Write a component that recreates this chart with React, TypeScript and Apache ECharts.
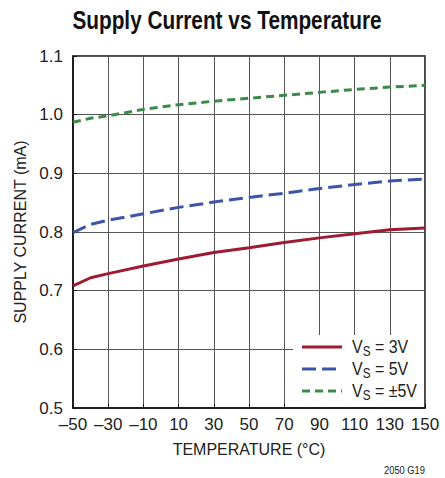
import React, { useEffect, useRef } from "react";
import * as echarts from "echarts";

const temperatures = [-50, -40, -30, -10, 10, 30, 50, 70, 90, 110, 130, 150];
const vs3 = [0.708, 0.722, 0.729, 0.742, 0.754, 0.765, 0.773, 0.782, 0.79, 0.797, 0.804, 0.807];
const vs5 = [0.799, 0.813, 0.82, 0.831, 0.842, 0.851, 0.859, 0.866, 0.874, 0.881, 0.887, 0.89];
const vs5pm = [0.987, 0.994, 0.998, 1.009, 1.017, 1.023, 1.028, 1.033, 1.038, 1.043, 1.047, 1.05];
const seriesNames = ["VS = 3V", "VS = 5V", "VS = ±5V"];
const legendTail = [" = 3V", " = 5V", " = ±5V"];
const colors = ["#9e1b32", "#3b56a8", "#3a8b48"];
const dashes: (number[] | null)[] = [null, [14, 6], [8, 5]];

const FONT = "'Liberation Sans', Arial, sans-serif";

export default function App() {
  const ref = useRef<HTMLDivElement>(null);
  useEffect(() => {
    document.body.style.margin = "0";
    const chart = echarts.init(ref.current!, null, { renderer: "svg" });
    const mk = (vals: number[]) => temperatures.map((t, i) => [t, vals[i]]);
    const legendY = [347, 369, 391];
    const legendEls: any[] = [];
    seriesNames.forEach((_, i) => {
      legendEls.push({
        type: "line",
        z: 5,
        shape: { x1: 302, y1: legendY[i], x2: 342, y2: legendY[i] },
        style: { stroke: colors[i], lineWidth: 3, lineDash: dashes[i] || undefined },
      });
      legendEls.push({
        type: "text",
        z: 5,
        x: 352,
        y: legendY[i],
        scaleX: 0.84,
        style: {
          text: `{v|V}{s|S}{v|${legendTail[i]}}`,
          textVerticalAlign: "middle",
          rich: {
            v: { fontSize: 19, fontFamily: FONT, fill: "#222", lineHeight: 22 },
            s: {
              fontSize: 14,
              fontFamily: FONT,
              fill: "#222",
              lineHeight: 22,
              verticalAlign: "bottom",
              padding: [8, 0, 0, 0],
            },
          },
        },
      });
    });
    chart.setOption({
      animation: false,
      textStyle: { fontFamily: FONT },
      grid: {
        left: 73,
        right: 20,
        top: 56,
        bottom: 70,
        show: true,
        borderColor: "#111",
        borderWidth: 1.5,
        backgroundColor: "transparent",
      },
      graphic: [
        {
          type: "text",
          x: 227,
          y: 20,
          scaleX: 0.8,
          style: {
            text: "Supply Current vs Temperature",
            font: `bold 26px ${FONT}`,
            fill: "#111",
            textAlign: "center",
            textVerticalAlign: "middle",
          },
        },
        {
          type: "rect",
          z: 2,
          shape: { x: 293, y: 335, width: 131, height: 72 },
          style: { fill: "#fff" },
        },
        ...legendEls,
        {
          type: "text",
          x: 425,
          y: 470,
          scaleX: 0.85,
          style: {
            text: "2050 G19",
            font: `11px ${FONT}`,
            fill: "#222",
            textAlign: "right",
            textVerticalAlign: "middle",
          },
        },
      ],
      xAxis: {
        type: "value",
        min: -50,
        max: 150,
        interval: 20,
        name: "TEMPERATURE (°C)",
        nameLocation: "middle",
        nameGap: 33,
        nameTextStyle: { fontSize: 16, color: "#222", fontFamily: FONT },
        axisLine: { show: true, onZero: false, lineStyle: { color: "#111", width: 1.5 } },
        axisTick: { show: true, inside: true, length: 4, lineStyle: { color: "#111" } },
        axisLabel: {
          fontSize: 17,
          color: "#222",
          margin: 8,
          fontFamily: FONT,
          formatter: (v: number) => String(v).replace("-", "–"),
        },
        splitLine: { show: true, lineStyle: { color: "#555", width: 1 } },
      },
      yAxis: {
        type: "value",
        min: 0.5,
        max: 1.1,
        interval: 0.1,
        name: "SUPPLY CURRENT (mA)",
        nameLocation: "middle",
        nameGap: 44,
        nameTextStyle: { fontSize: 16, color: "#222", fontFamily: FONT },
        axisLine: { show: true, onZero: false, lineStyle: { color: "#111", width: 1.5 } },
        axisTick: { show: true, inside: true, length: 4, lineStyle: { color: "#111" } },
        axisLabel: {
          fontSize: 17,
          color: "#222",
          margin: 10,
          fontFamily: FONT,
          formatter: (v: number) => v.toFixed(1),
        },
        splitLine: { show: true, lineStyle: { color: "#555", width: 1 } },
      },
      series: [vs3, vs5, vs5pm].map((vals, i) => ({
        name: seriesNames[i],
        type: "line",
        data: mk(vals),
        showSymbol: false,
        symbol: "none",
        color: colors[i],
        lineStyle: { width: 3, color: colors[i], type: dashes[i] || "solid" },
        z: 3,
      })),
    });
    return () => chart.dispose();
  }, []);
  return <div ref={ref} style={{ width: 445, height: 478 }} />;
}
